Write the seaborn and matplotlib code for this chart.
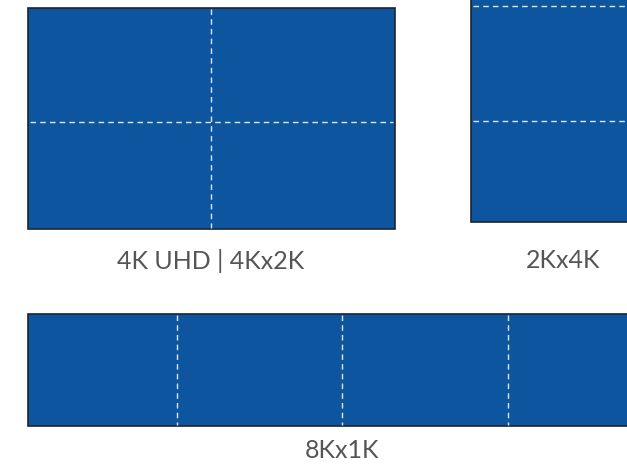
import matplotlib
matplotlib.use("Agg")
import matplotlib.pyplot as plt
from matplotlib.patches import Rectangle
import seaborn as sns

# panel layouts (pixel space of the original diagram)
names = ["4K UHD | 4Kx2K", "2Kx4K", "8Kx1K"]
lefts = [28, 471, 28]
tops = [8, -120, 314]
widths = [367, 184, 628]
heights = [221, 342, 112]
v_dividers = [[211], [], [177, 342, 508]]
h_dividers = [[122], [6, 121], []]
label_x = [211, 563, 342]
label_y = [261, 261, 451]

panel_blue = "#0e55a0"
edge_col = "#1c2430"
text_col = "#555555"

sns.set_theme(style="white")
plt.rcParams["font.family"] = ["Lato", "DejaVu Sans"]

fig = plt.figure(figsize=(6.27, 4.67), dpi=100)
ax = fig.add_axes([0, 0, 1, 1])
ax.set_xlim(0, 627)
ax.set_ylim(467, 0)
ax.axis("off")

for i, name in enumerate(names):
    x0, y0, w, h = lefts[i], tops[i], widths[i], heights[i]
    ax.add_patch(Rectangle((x0, y0), w, h, facecolor=panel_blue,
                           edgecolor=edge_col, linewidth=1.2, zorder=1))
    for xv in v_dividers[i]:
        ax.plot([xv, xv], [y0 + 1, y0 + h - 1], color="#dce6f2",
                linewidth=1.0, dashes=(4, 3), zorder=2)
    for yh in h_dividers[i]:
        ax.plot([x0 + 2, x0 + w - 2], [yh, yh], color="#dce6f2",
                linewidth=1.0, dashes=(4, 3), zorder=2)
    ax.text(label_x[i], label_y[i], name, ha="center", va="center",
            fontsize=18, color=text_col, fontweight="normal")

sns.despine(ax=ax, left=True, bottom=True)
fig.savefig("out.png", dpi=100)
